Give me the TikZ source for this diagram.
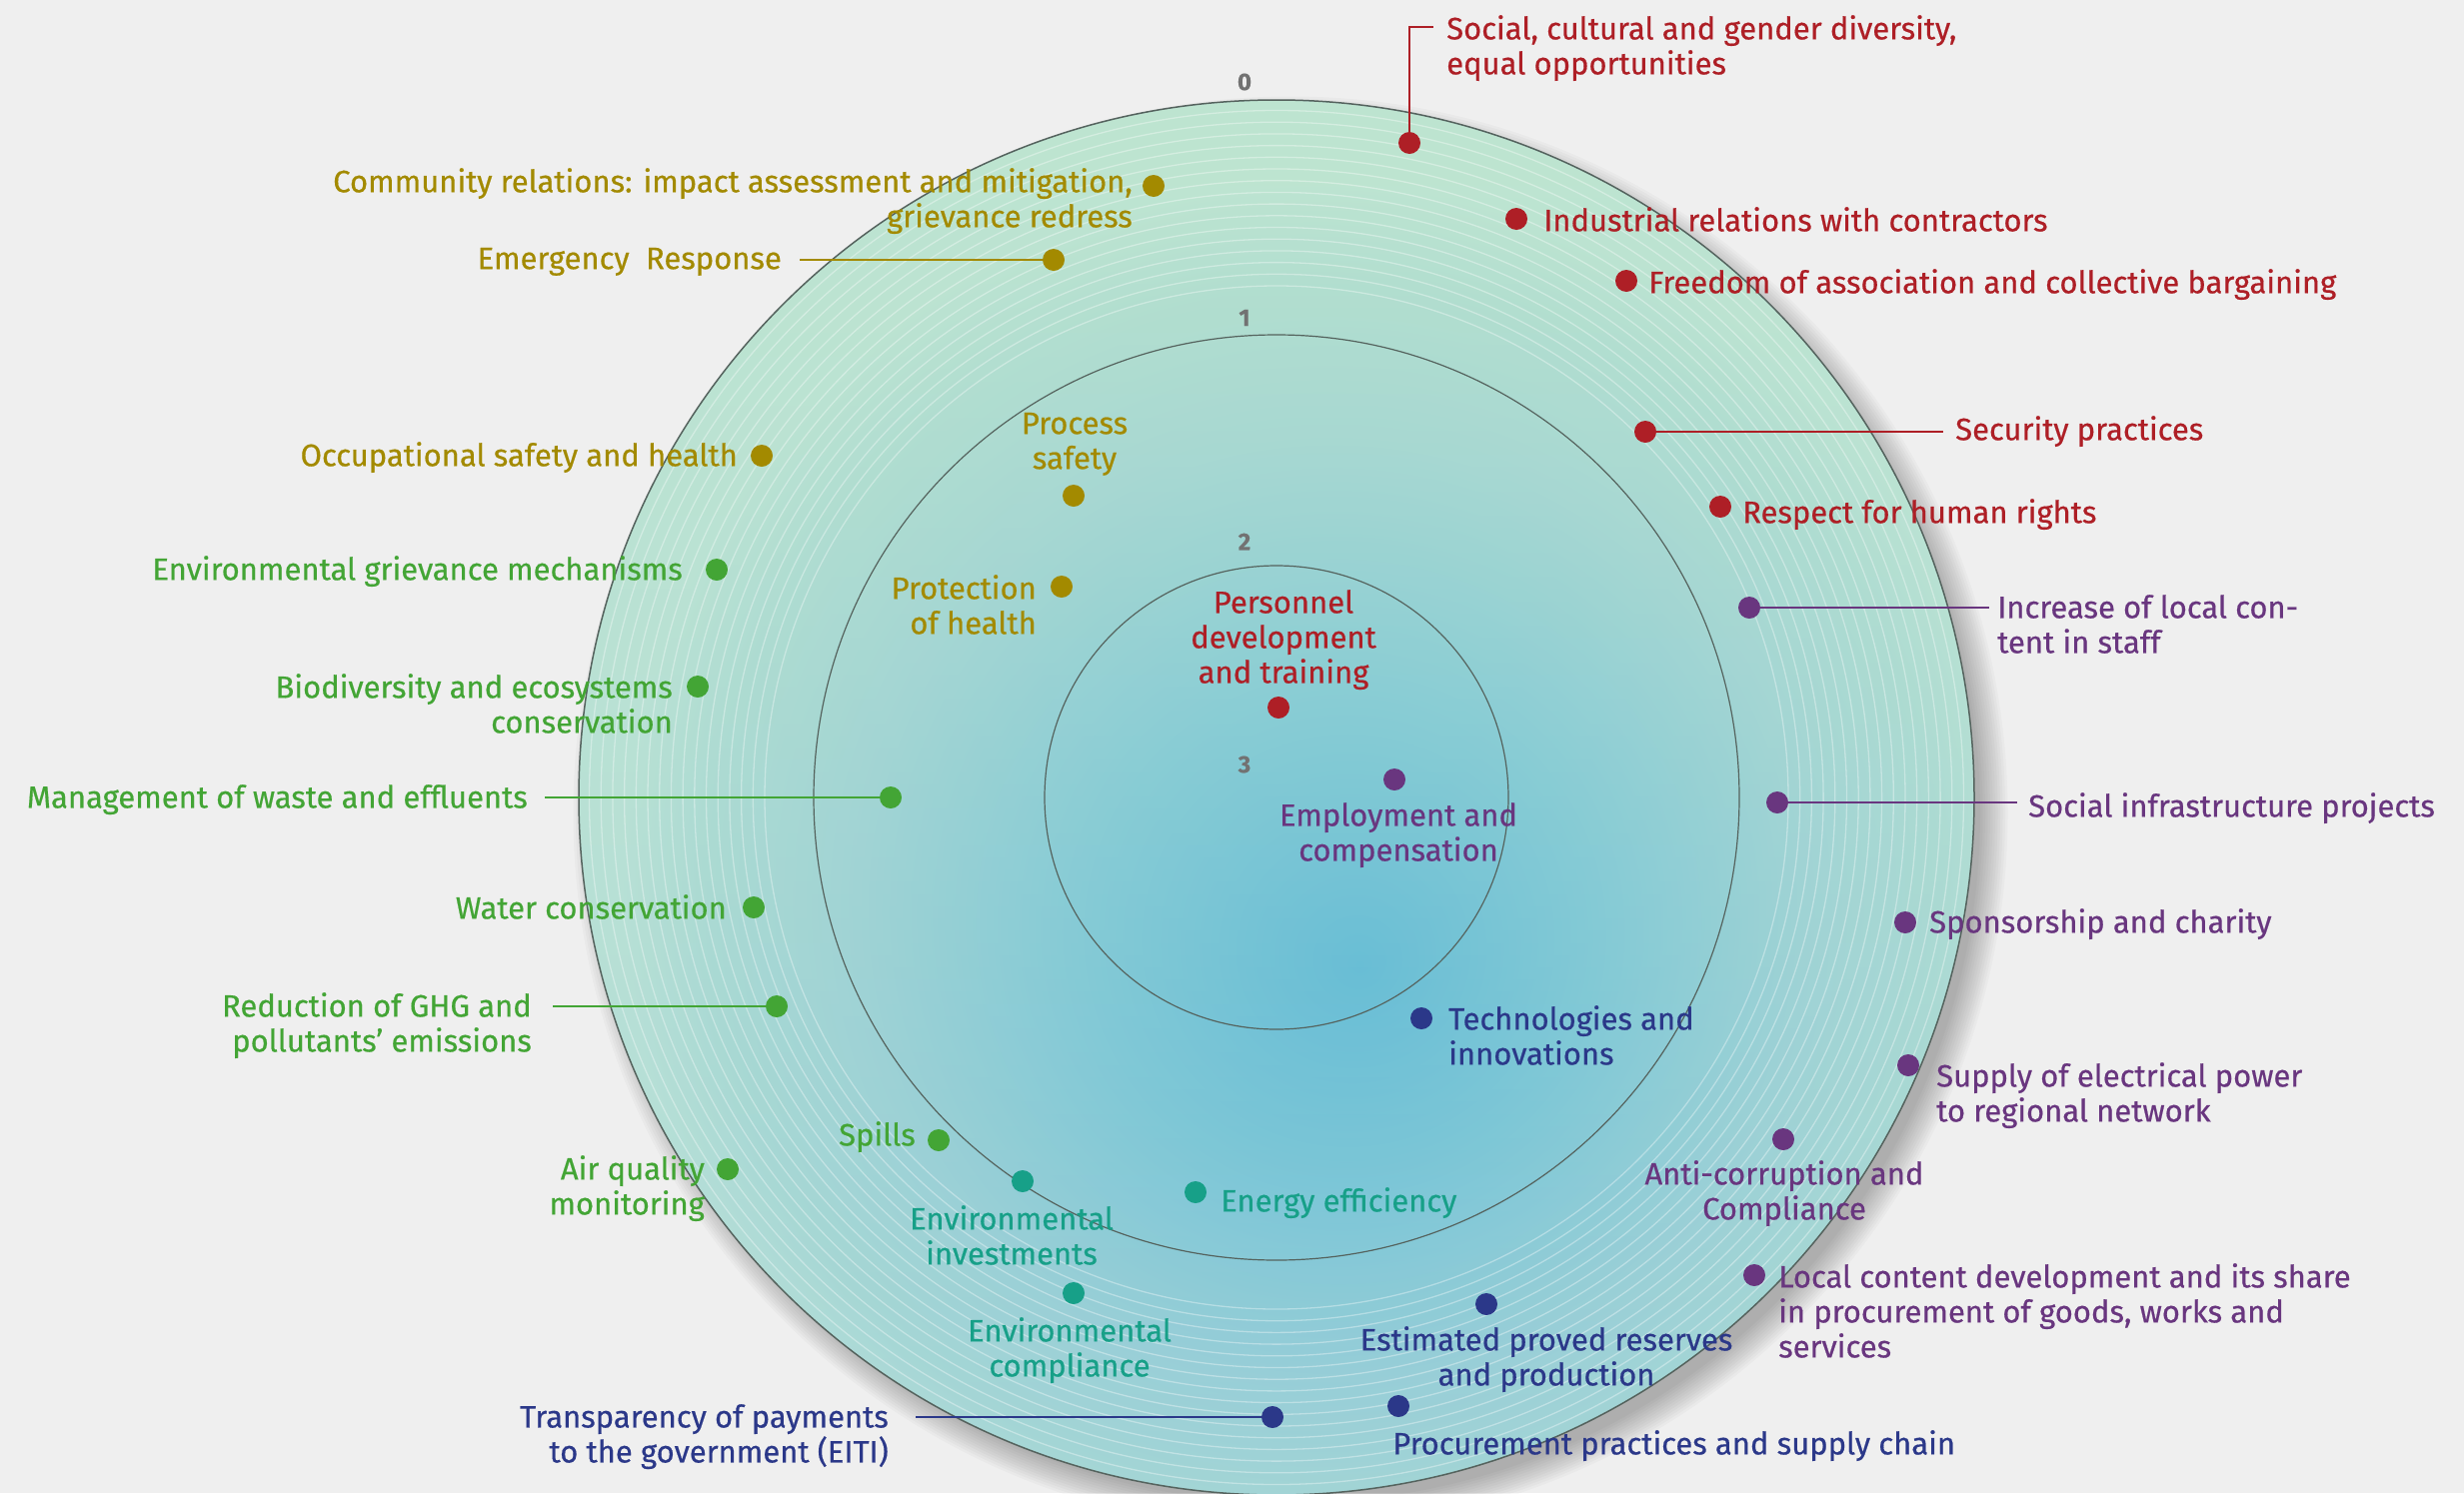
\documentclass[tikz,border=0pt]{standalone}
\usepackage{fontspec}
\setmainfont{Fira Sans}[FakeBold=0.5]
\usetikzlibrary{fadings}
\definecolor{cR}{HTML}{AE1F26}
\definecolor{cO}{HTML}{A38A00}
\definecolor{cG}{HTML}{43A535}
\definecolor{cT}{HTML}{17A088}
\definecolor{cN}{HTML}{2B3889}
\definecolor{cP}{HTML}{69367F}
\definecolor{cNum}{HTML}{727272}
\definecolor{bgc}{HTML}{EFEFEF}
\definecolor{ringc}{HTML}{55635E}
\definecolor{dcA}{HTML}{55B4D9}
\definecolor{dcB}{HTML}{74C2D9}
\definecolor{dcC}{HTML}{96CDD8}
\definecolor{dcD}{HTML}{A3D5D6}
\definecolor{dcE}{HTML}{B3DDD9}
\definecolor{tintG}{HTML}{CBEEC6}
\pgfdeclareradialshading{discshade}{\pgfpoint{3bp}{-6bp}}{color(0bp)=(dcA); color(9bp)=(dcB); color(17bp)=(dcC); color(22bp)=(dcD); color(25bp)=(dcE); color(50bp)=(dcE)}
\tikzfading[name=topfade, top color=transparent!55, middle color=transparent!100, bottom color=transparent!100]
\newcommand\lblfont{\fontsize{31}{35}\selectfont}
\newcommand\lblstrut{\rule{0pt}{23pt}}
\tikzset{
  lbl/.style={font=\lblfont, inner sep=0pt, text=#1},
  dotnode/.style={circle, fill=#1, minimum size=22pt, inner sep=0pt},
  lead/.style={draw=#1, line width=2pt},
  numlbl/.style={font=\fontsize{24}{28}\selectfont\bfseries, text=cNum, inner sep=0pt},
  ringline/.style={draw=ringc, line width=1.2pt},
}
\begin{document}
\begin{tikzpicture}[x=1pt,y=-1pt]
\useasboundingbox (0,0) rectangle (2465,1494);
\fill[bgc] (0,0) rectangle (2465,1494);
\coordinate (C) at (1277,798);
% shadow
\foreach \k in {0,...,11} {
  \fill[black, opacity=0.025] (1291,814) circle[radius=690pt+\k*2.5pt];
}
% disk
\shade[shading=discshade] (C) circle[radius=698pt];
\fill[tintG, path fading=topfade] (C) circle[radius=698pt];
\foreach \k in {0,...,15} {
  \draw[white, opacity=0.35, line width=1.3pt] (C) circle[radius=512pt+\k*11.7pt];
}
\draw[ringline, line width=1.5pt] (C) circle[radius=698pt];
\draw[ringline] (C) circle[radius=463pt];
\draw[ringline] (C) circle[radius=232pt];
% scale numbers
\node[numlbl] (n0) at (1245,82) {0};
\node[numlbl] (n1) at (1245,318) {1};
\node[numlbl] (n2) at (1245,542) {2};
\node[numlbl] (n3) at (1245,765) {3};
% dots
\node[dotnode=cR] (dSoc) at (1410,143) {};
\node[dotnode=cR] (dInd) at (1517,219) {};
\node[dotnode=cR] (dFree) at (1627,281) {};
\node[dotnode=cR] (dSec) at (1646,432) {};
\node[dotnode=cR] (dResp) at (1721,507) {};
\node[dotnode=cR] (dPers) at (1279,708) {};
\node[dotnode=cO] (dComm) at (1154,186) {};
\node[dotnode=cO] (dEmer) at (1054,260) {};
\node[dotnode=cO] (dOcc) at (762,456) {};
\node[dotnode=cO] (dProc) at (1074,496) {};
\node[dotnode=cO] (dProt) at (1062,587) {};
\node[dotnode=cG] (dEgm) at (717,570) {};
\node[dotnode=cG] (dBio) at (698,687) {};
\node[dotnode=cG] (dWaste) at (891,798) {};
\node[dotnode=cG] (dWater) at (754,908) {};
\node[dotnode=cG] (dGhg) at (777,1007) {};
\node[dotnode=cG] (dAir) at (728,1170) {};
\node[dotnode=cG] (dSpill) at (939,1141) {};
\node[dotnode=cT] (dInv) at (1023,1182) {};
\node[dotnode=cT] (dComp) at (1074,1294) {};
\node[dotnode=cT] (dEnergy) at (1196,1193) {};
\node[dotnode=cN] (dTech) at (1422,1019) {};
\node[dotnode=cN] (dEst) at (1487,1305) {};
\node[dotnode=cN] (dProcu) at (1399,1407) {};
\node[dotnode=cN] (dTrans) at (1273,1418) {};
\node[dotnode=cP] (dEmp) at (1395,780) {};
\node[dotnode=cP] (dInc) at (1750,608) {};
\node[dotnode=cP] (dSoci) at (1778,803) {};
\node[dotnode=cP] (dSpon) at (1906,923) {};
\node[dotnode=cP] (dSup) at (1909,1066) {};
\node[dotnode=cP] (dAnti) at (1784,1140) {};
\node[dotnode=cP] (dLoc) at (1755,1276) {};
% leader end points
\coordinate (eSoc) at (1434,27);
\coordinate (eSec) at (1944,432);
\coordinate (eEmer) at (800,260);
\coordinate (eWaste) at (545,798);
\coordinate (eGhg) at (553,1007);
\coordinate (eTrans) at (916,1418);
\coordinate (eInc) at (1990,608);
\coordinate (eSoci) at (2018,803);
\draw[lead=cR] (dSoc) |- (eSoc);
\draw[lead=cR] (dSec) -- (eSec);
\draw[lead=cO] (dEmer) -- (eEmer);
\draw[lead=cG] (dWaste) -- (eWaste);
\draw[lead=cG] (dGhg) -- (eGhg);
\draw[lead=cN] (dTrans) -- (eTrans);
\draw[lead=cP] (dInc) -- (eInc);
\draw[lead=cP] (dSoci) -- (eSoci);
% labels red
\node[lbl=cR, anchor=north west, align=left] (lSoc) at (1447,15) {\lblstrut Social, cultural and gender diversity,\\equal opportunities};
\node[lbl=cR, anchor=north west] (lInd) at (1544,207) {\lblstrut Industrial relations with contractors};
\node[lbl=cR, anchor=north west] (lFree) at (1649,269) {\lblstrut Freedom of association and collective bargaining};
\node[lbl=cR, anchor=north west] (lSec) at (1956,416) {\lblstrut Security practices};
\node[lbl=cR, anchor=north west] (lResp) at (1743,499) {\lblstrut Respect for human rights};
\node[lbl=cR, anchor=north, align=center] (lPers) at (1284,590) {\lblstrut Personnel\\development\\and training};
% labels olive
\node[lbl=cO, anchor=north east, align=right] (lComm) at (1133,168) {\lblstrut Community relations: impact assessment and mitigation,\\grievance redress};
\node[lbl=cO, anchor=north east] (lEmer) at (782,246) {\lblstrut Emergency\ \ Response};
\node[lbl=cO, anchor=north east] (lOcc) at (738,442) {\lblstrut Occupational safety and health};
\node[lbl=cO, anchor=north, align=center] (lProc) at (1075,411) {\lblstrut Process\\safety};
\node[lbl=cO, anchor=north east, align=right] (lProt) at (1037,575) {\lblstrut Protection\\of health};
% labels green
\node[lbl=cG, anchor=north east] (lEgm) at (683,556) {\lblstrut Environmental grievance mechanisms};
\node[lbl=cG, anchor=north east, align=right] (lBio) at (673,674) {\lblstrut Biodiversity and ecosystems\\conservation};
\node[lbl=cG, anchor=north east] (lWaste) at (528,785) {\lblstrut Management of waste and effluents};
\node[lbl=cG, anchor=north east] (lWater) at (727,895) {\lblstrut Water conservation};
\node[lbl=cG, anchor=north east, align=right] (lGhg) at (532,993) {\lblstrut Reduction of GHG and\\pollutants’ emissions};
\node[lbl=cG, anchor=north east, align=right] (lAir) at (705,1156) {\lblstrut Air quality\\monitoring};
\node[lbl=cG, anchor=north east] (lSpill) at (916,1122) {\lblstrut Spills};
% labels teal
\node[lbl=cT, anchor=north, align=center] (lInv) at (1012,1206) {\lblstrut Environmental\\investments};
\node[lbl=cT, anchor=north, align=center] (lComp) at (1070,1318) {\lblstrut Environmental\\compliance};
\node[lbl=cT, anchor=north west] (lEnergy) at (1221,1188) {\lblstrut Energy efficiency};
% labels navy
\node[lbl=cN, anchor=north west, align=left] (lTech) at (1449,1006) {\lblstrut Technologies and\\innovations};
\node[lbl=cN, anchor=north, align=center] (lEst) at (1547,1327) {\lblstrut Estimated proved reserves\\and production};
\node[lbl=cN, anchor=north west] (lProcu) at (1393,1431) {\lblstrut Procurement practices and supply chain};
\node[lbl=cN, anchor=north east, align=right] (lTrans) at (889,1405) {\lblstrut Transparency of payments\\to the government (EITI)};
% labels purple
\node[lbl=cP, anchor=north, align=center] (lEmp) at (1399,803) {\lblstrut Employment and\\compensation};
\node[lbl=cP, anchor=north west, align=left] (lInc) at (1998,595) {\lblstrut Increase of local con-\\tent in staff};
\node[lbl=cP, anchor=north west] (lSoci) at (2029,793) {\lblstrut Social infrastructure projects};
\node[lbl=cP, anchor=north west] (lSpon) at (1930,909) {\lblstrut Sponsorship and charity};
\node[lbl=cP, anchor=north west, align=left] (lSup) at (1937,1063) {\lblstrut Supply of electrical power\\to regional network};
\node[lbl=cP, anchor=north, align=center] (lAnti) at (1785,1161) {\lblstrut Anti-corruption and\\Compliance};
\node[lbl=cP, anchor=north west, align=left] (lLoc) at (1779,1264) {\lblstrut Local content development and its share\\in procurement of goods, works and\\services};
\end{tikzpicture}
\end{document}
